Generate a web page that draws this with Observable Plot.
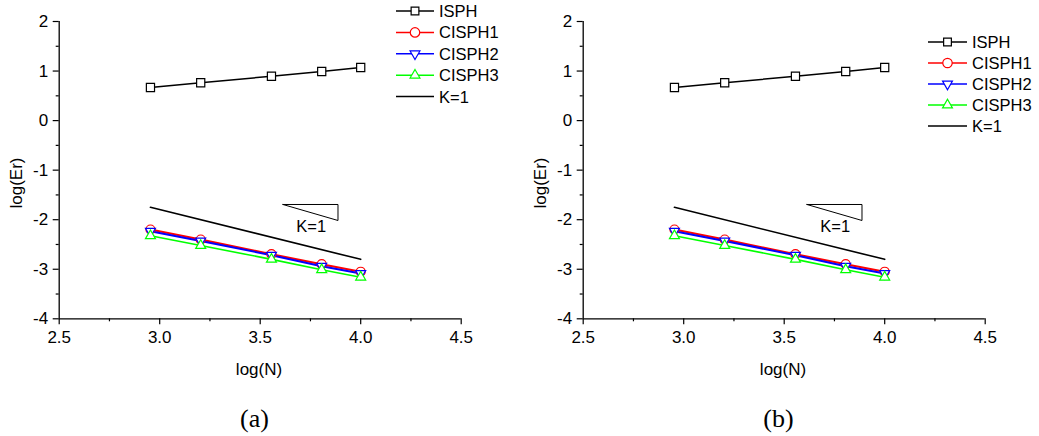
<!DOCTYPE html>
<html><head><meta charset="utf-8">
<script src="https://cdn.jsdelivr.net/npm/d3@7"></script>
<script src="https://cdn.jsdelivr.net/npm/@observablehq/plot@0.6"></script>
<style>
html,body{margin:0;padding:0;background:#fff;overflow:hidden}
#wrap{position:relative;width:1039px;height:436px;font-family:"Liberation Sans",Arial,sans-serif;color:#000;overflow:hidden}
.panel{position:absolute;top:0}
.lab{position:absolute;font-size:17px;white-space:nowrap;line-height:1;transform:translate(-50%,-50%)}
.ylab{transform:translate(-50%,-50%) rotate(-90deg)}
.cap{position:absolute;font-family:"Liberation Serif","Times New Roman",serif;font-size:26px;line-height:1.1;transform:translate(-50%,-50%);white-space:nowrap}
.legend{position:absolute}
</style></head><body><div id="wrap"></div>
<script>
// ---- data ----
const logN   = [2.954, 3.204, 3.556, 3.806, 4.0];
const ISPH   = [0.668, 0.763, 0.896, 0.991, 1.072];
const CISPH1 = [-2.198, -2.400, -2.696, -2.898, -3.050];
const CISPH2 = [-2.232, -2.430, -2.716, -2.940, -3.085];
const CISPH3 = [-2.325, -2.520, -2.800, -3.010, -3.160];
const refX = [2.954, 4.0];
const refY = [-1.75, -2.80];
const triX = [3.613, 3.887, 3.887, 3.613];
const triY = [-1.693, -1.693, -2.016, -1.693];
const kLabelX = [3.754];
const kLabelY = [-2.151];
const kLabelText = ["K=1"];
const xTicks = [2.5, 3.0, 3.5, 4.0, 4.5];
const xMinor = [2.75, 3.25, 3.75, 4.25];
const yTicks = [-4, -3, -2, -1, 0, 1, 2];
const yMinor = [-3.5, -2.5, -1.5, -0.5, 0.5, 1.5];
const seriesNames = ["ISPH", "CISPH1", "CISPH2", "CISPH3", "K=1"];
const seriesColors = ["#000000", "#ff0000", "#0000ff", "#00ff00", "#000000"];
const panelLabels = ["(a)", "(b)"];

const sqrt3 = Math.sqrt(3);
const triangleDown = {
  draw(context, size) {
    const y = -Math.sqrt(size / (sqrt3 * 3));
    context.moveTo(0, -y * 2);
    context.lineTo(-sqrt3 * y, y);
    context.lineTo(sqrt3 * y, y);
    context.closePath();
  }
};
const symbols = [d3.symbolSquare, d3.symbolCircle, triangleDown, d3.symbolTriangle, null];
const dotR = [4.6, 4.5, 3.7, 3.7];
const lineW = [1.5, 2, 2, 1.6];

const seriesData = [ISPH, CISPH1, CISPH2, CISPH3].map(ys => logN.map((x, i) => ({x, y: ys[i]})));
const refData = refX.map((x, i) => ({x, y: refY[i]}));
const triData = triX.map((x, i) => ({x, y: triY[i]}));
const kData = kLabelX.map((x, i) => ({x, y: kLabelY[i], t: kLabelText[i]}));

function panel(width, marginRight) {
  const marks = [
    Plot.ruleX([xTicks[0]], {stroke: "#000", strokeWidth: 1.3}),
    Plot.ruleY([yTicks[0]], {stroke: "#000", strokeWidth: 1.3}),
    Plot.axisX({ticks: xTicks, tickSize: 6, tickPadding: 6, tickFormat: d3.format(".1f"), fontSize: 17, label: null, strokeWidth: 1.2}),
    Plot.axisX({ticks: xMinor, tickSize: 3, tickFormat: () => "", label: null, strokeWidth: 1.2}),
    Plot.axisY({ticks: yTicks, tickSize: 6, tickPadding: 5, tickFormat: d => String(d), fontSize: 17, label: null, strokeWidth: 1.2}),
    Plot.axisY({ticks: yMinor, tickSize: 3, tickFormat: () => "", label: null, strokeWidth: 1.2}),
    Plot.line(refData, {x: "x", y: "y", stroke: "#000", strokeWidth: 1.6}),
    Plot.line(triData, {x: "x", y: "y", stroke: "#000", strokeWidth: 1}),
    Plot.text(kData, {x: "x", y: "y", text: "t", fontSize: 16.5, fill: "#000"})
  ];
  seriesData.forEach((d, k) => {
    marks.push(Plot.line(d, {x: "x", y: "y", stroke: seriesColors[k], strokeWidth: lineW[k]}));
  });
  seriesData.forEach((d, k) => {
    marks.push(Plot.dot(d, {x: "x", y: "y", symbol: () => symbols[k], r: dotR[k], stroke: seriesColors[k], fill: "#fff", strokeWidth: 1.2}));
  });
  return Plot.plot({
    width, height: 436,
    marginLeft: 58.7, marginRight, marginTop: 21, marginBottom: 117.7,
    x: {domain: [2.5, 4.5], label: null},
    y: {domain: [-4, 2], label: null},
    style: {background: "transparent", color: "#000", fontFamily: '"Liberation Sans", Arial, sans-serif', overflow: "visible"},
    marks
  });
}

function legend(left, top, step, lineLen, textGap) {
  const div = document.createElement("div");
  div.className = "legend";
  div.style.left = left + "px";
  div.style.top = (top - 10) + "px";
  const svg = d3.select(div).append("svg").attr("width", 150).attr("height", step * 5 + 10);
  seriesNames.forEach((name, i) => {
    const cy = 10 + i * step;
    svg.append("line").attr("x1", 0).attr("x2", lineLen).attr("y1", cy).attr("y2", cy)
      .attr("stroke", seriesColors[i]).attr("stroke-width", 1.5);
    if (symbols[i]) {
      const size = symbols[i] === d3.symbolSquare ? 60 : symbols[i] === d3.symbolCircle ? 70 : 42;
      svg.append("path").attr("d", d3.symbol(symbols[i], size)())
        .attr("transform", `translate(${lineLen / 2},${cy})`)
        .attr("fill", "#fff").attr("stroke", seriesColors[i]).attr("stroke-width", 1.2);
    }
    svg.append("text").attr("x", lineLen + textGap).attr("y", cy).attr("dy", "0.36em")
      .attr("font-size", 16.5).attr("font-family", '"Liberation Sans", Arial, sans-serif')
      .attr("fill", "#000").text(name);
  });
  return div;
}

const wrap = document.getElementById("wrap");
const offsets = [0, 524];
offsets.forEach((off, p) => {
  const w = p === 0 ? 520 : 515;
  const mr = p === 0 ? 520 - 460.7 : 515 - 460.7;
  const el = panel(w, mr);
  el.classList.add("panel");
  el.style.left = off + "px";
  wrap.appendChild(el);
  const xl = document.createElement("div");
  xl.className = "lab"; xl.textContent = "log(N)";
  xl.style.left = (259 + off) + "px"; xl.style.top = "368.7px";
  wrap.appendChild(xl);
  const yl = document.createElement("div");
  yl.className = "lab ylab"; yl.textContent = "log(Er)";
  yl.style.left = (16 + off) + "px"; yl.style.top = "182.5px";
  wrap.appendChild(yl);
  const cap = document.createElement("div");
  cap.className = "cap"; cap.textContent = panelLabels[p];
  cap.style.left = (254.5 + off) + "px"; cap.style.top = "419px";
  wrap.appendChild(cap);
});
wrap.appendChild(legend(396, 11, 21.4, 38, 5));
wrap.appendChild(legend(928, 42, 21, 39, 5));
</script></body></html>
